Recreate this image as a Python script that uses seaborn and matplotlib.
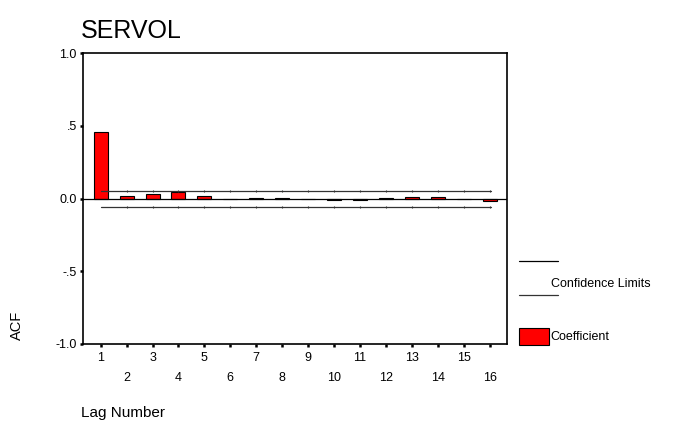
import numpy as np
import pandas as pd
import matplotlib
matplotlib.use("Agg")
import matplotlib.pyplot as plt
from matplotlib.lines import Line2D
from matplotlib.patches import Rectangle
import seaborn as sns

lags = [1, 2, 3, 4, 5, 6, 7, 8, 9, 10, 11, 12, 13, 14, 15, 16]
acf = [0.458, 0.016, 0.030, 0.043, 0.015, 0.001, 0.006, 0.006, 0.001,
       -0.007, -0.008, 0.006, 0.012, 0.012, 0.001, -0.019]
conf_limit = 0.055
yticks = [-1.0, -0.5, 0.0, 0.5, 1.0]
ytick_labels = ["-1.0", "-.5", "0.0", ".5", "1.0"]
title = "SERVOL"

sns.set_theme(style="white")
plt.rcParams['font.family'] = ['Liberation Sans', 'DejaVu Sans']
plt.rcParams['text.color'] = 'black'
plt.rcParams['axes.labelcolor'] = 'black'
plt.rcParams['xtick.color'] = 'black'
plt.rcParams['ytick.color'] = 'black'

fig = plt.figure(figsize=(6.79, 4.23), dpi=100)
W, H = 679, 423
ax = fig.add_axes([83 / W, 1 - 344 / H, (507 - 83) / W, (344 - 53.3) / H])

df = pd.DataFrame({"lag": lags, "acf": acf})
sns.barplot(data=df, x="lag", y="acf", native_scale=True, width=0.54,
            color="#ff0000", saturation=1, edgecolor="black", linewidth=0.8, ax=ax)

# zero line and confidence limits
ax.axhline(0, color="black", lw=0.9, zorder=4)
ax.plot([lags[0], lags[-1] + 0.05], [conf_limit, conf_limit], color="#333333", lw=0.9, zorder=4)
ax.plot([lags[0], lags[-1] + 0.05], [-conf_limit, -conf_limit], color="#333333", lw=0.9, zorder=4)
ax.plot(lags[1:], [conf_limit] * (len(lags) - 1), ls="none", marker="|", ms=1.5, mew=0.8,
        color="#333333", zorder=4)
ax.plot(lags[1:], [-conf_limit] * (len(lags) - 1), ls="none", marker="|", ms=1.5, mew=0.8,
        color="#333333", zorder=4)

ax.set_xlim(0.317, 16.67)
ax.set_ylim(-1.0, 1.0)
ax.set_yticks(yticks)
ax.set_yticklabels(ytick_labels)
ax.set_xticks(lags)
ax.set_xticklabels([str(l) for l in lags])
ax.tick_params(axis="both", which="major", direction="out", length=2.5, width=1.8,
               color="black", labelsize=9, pad=2, bottom=True, left=True)
for l, t in zip(lags, ax.xaxis.get_major_ticks()):
    t.set_pad(3 if l % 2 == 1 else 17.5)
ax.set_xlabel("")
ax.set_ylabel("")
for s in ax.spines.values():
    s.set_color("black")
    s.set_linewidth(1.2)

# titles and axis labels
fig.text(81 / W, 1 - 31 / H, title, fontsize=18, ha="left", va="center")
fig.text(17 / W, 1 - 325 / H, "ACF", fontsize=10.5, rotation=90, ha="center", va="center")
fig.text(81 / W, 1 - 413 / H, "Lag Number", fontsize=11, ha="left", va="center")

# legend
fig.add_artist(Line2D([519 / W, 558 / W], [1 - 261 / H, 1 - 261 / H], color="black", lw=0.9))
fig.add_artist(Line2D([519 / W, 558 / W], [1 - 295 / H, 1 - 295 / H], color="#333333", lw=0.9))
fig.text(551 / W, 1 - 284 / H, "Confidence Limits", fontsize=9, ha="left", va="center")
fig.add_artist(Rectangle((519 / W, 1 - 345 / H), 30 / W, 17 / H, facecolor="#ff0000",
                         edgecolor="black", lw=0.8, transform=fig.transFigure))
fig.text(550 / W, 1 - 337 / H, "Coefficient", fontsize=9, ha="left", va="center")

fig.savefig("out.png", dpi=100)
